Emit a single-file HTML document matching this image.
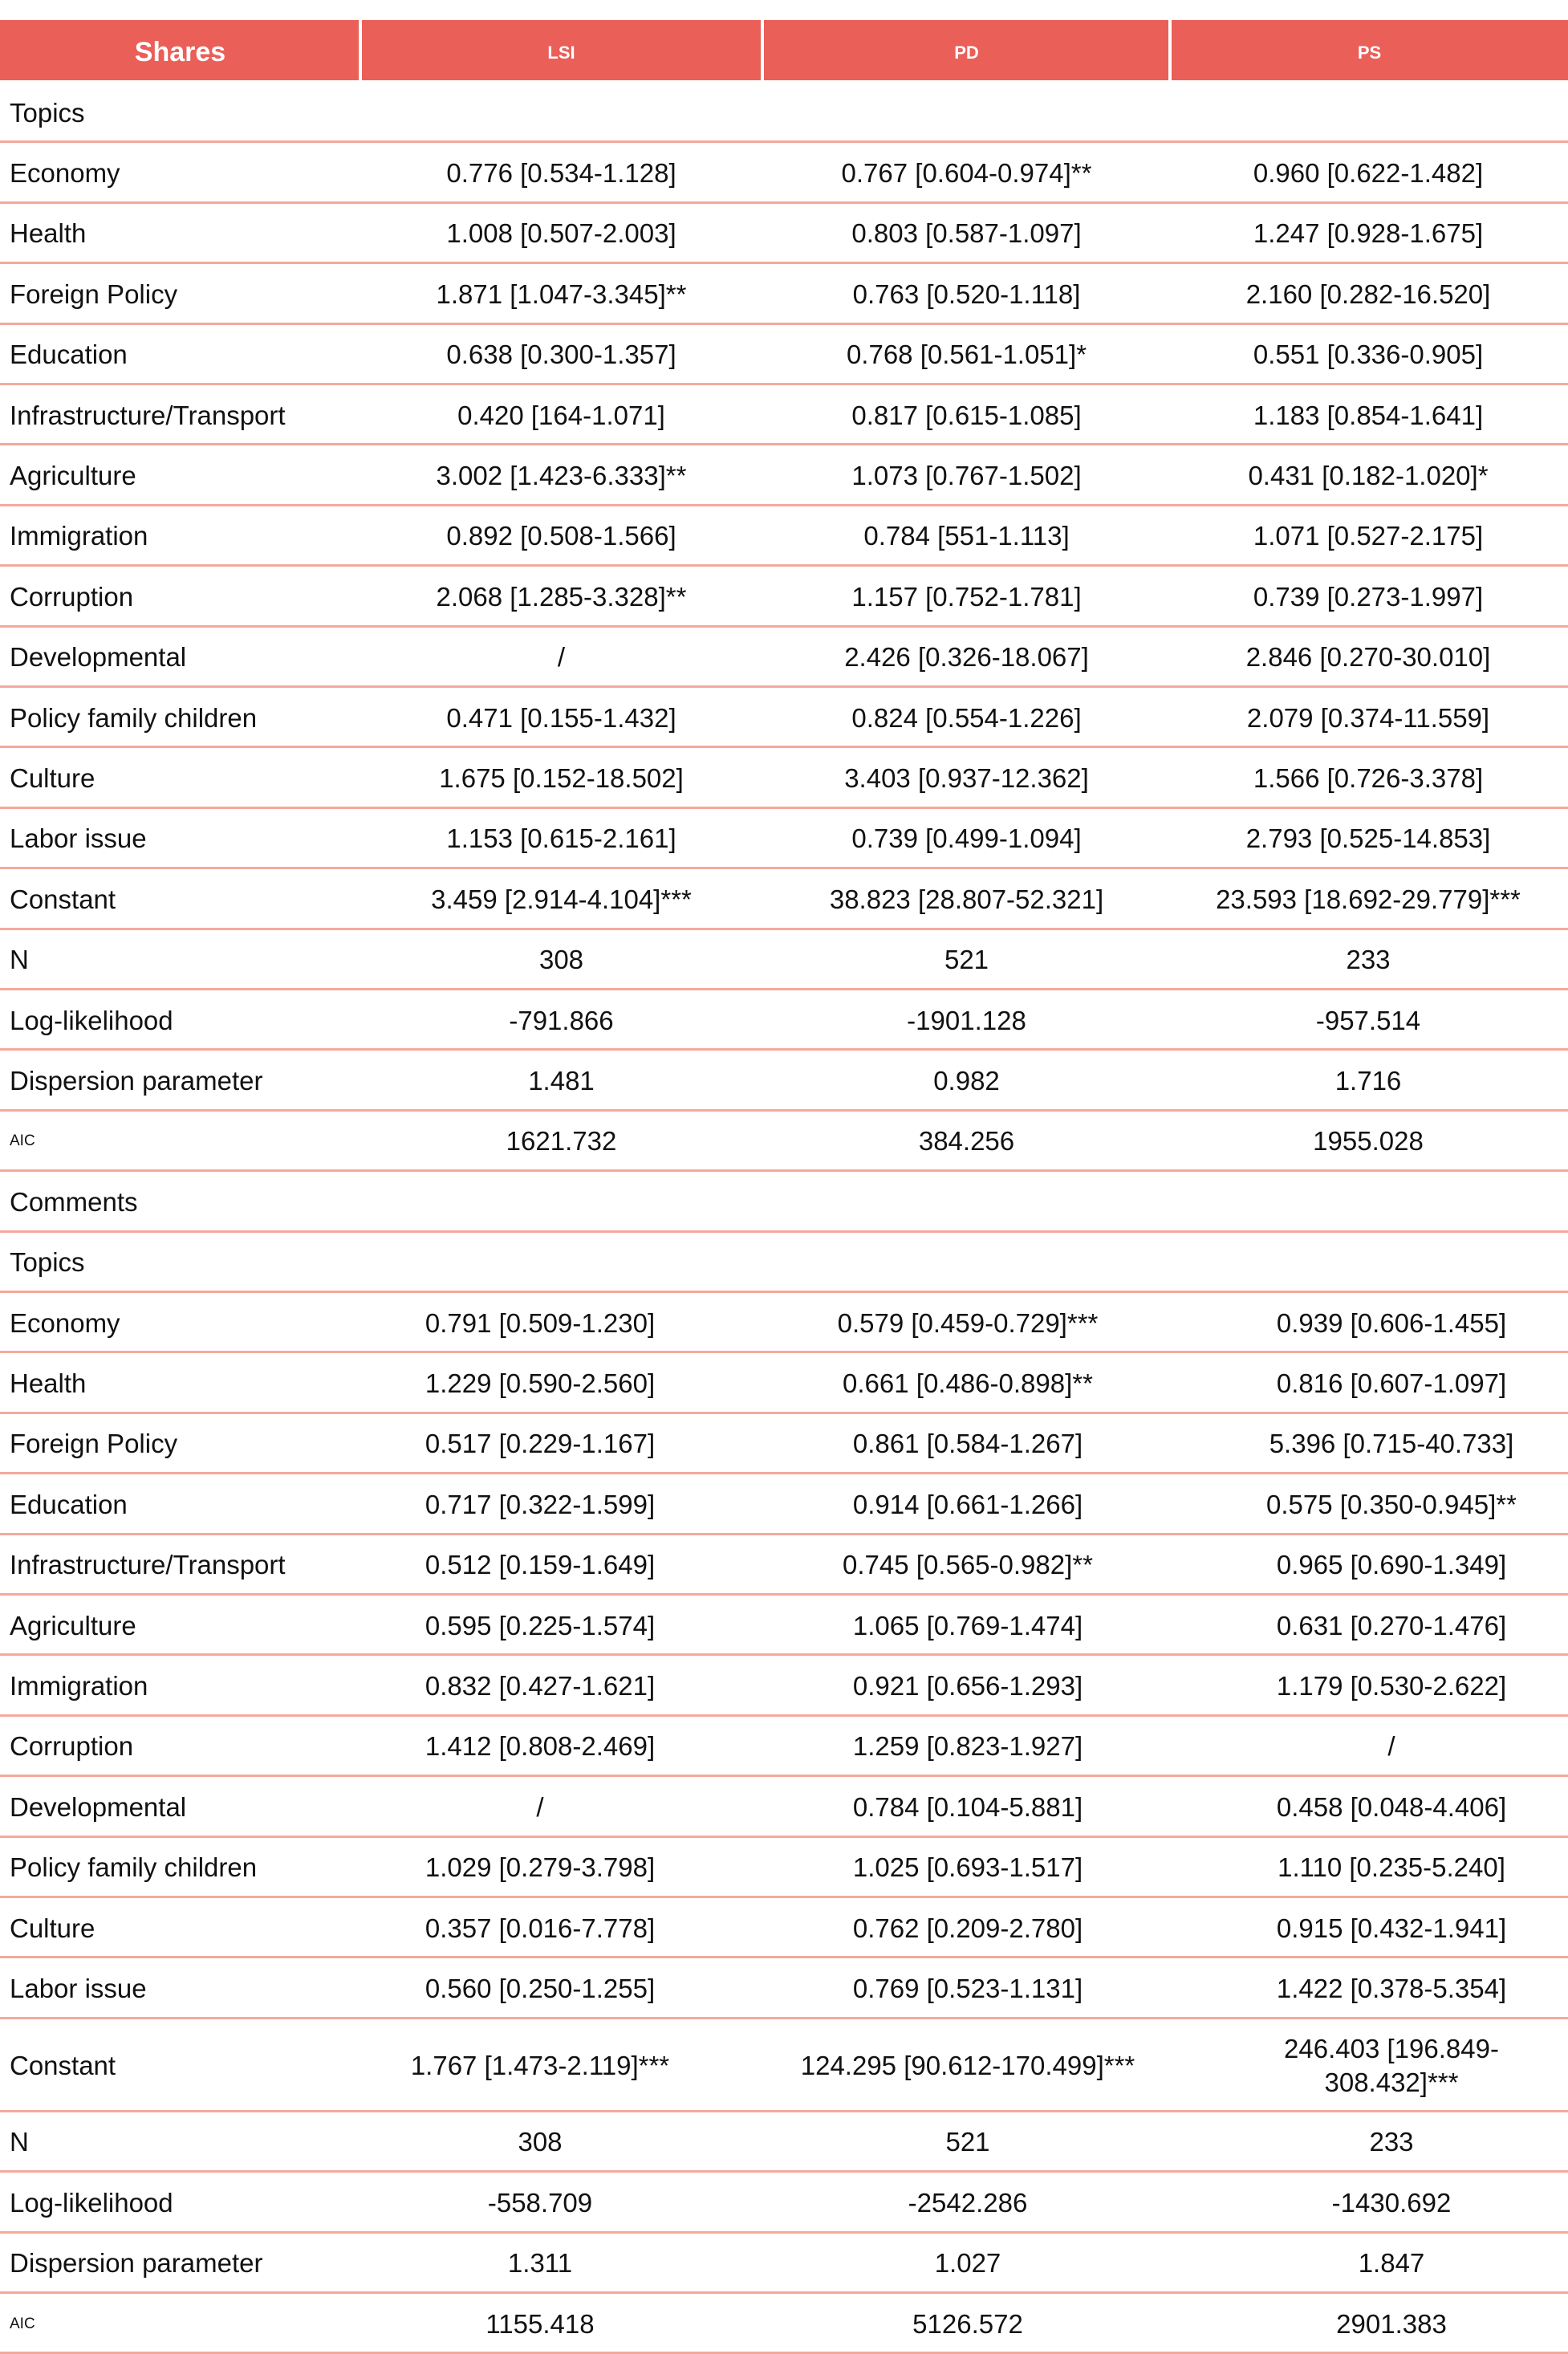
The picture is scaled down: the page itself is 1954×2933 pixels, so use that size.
<!DOCTYPE html>
<html><head><meta charset="utf-8"><style>
*{margin:0;padding:0;box-sizing:border-box}
body{width:1954px;height:2932px;background:#fff;overflow:hidden;position:relative;font-family:"Liberation Sans",sans-serif;color:#111}
.hd{position:absolute;top:25px;height:75px;background:#EA5F58;color:#fff;font-weight:bold;display:flex;align-items:center;justify-content:center;padding-top:6px}
.vl{position:absolute;top:25px;height:75px;width:4px;background:#fff}
.w{position:absolute;left:0;top:3px;width:1954px;height:2929px}
.r{position:absolute;left:0;width:1954px;height:75.4px;border-bottom:3px solid #F5A99C}
.r div{position:absolute;top:0;height:100%;display:flex;align-items:center;font-size:33px;padding-top:3px}
.l{left:12px;width:440px}
.a{left:449px;width:501px;justify-content:center;text-align:center}
.b{left:950px;width:509px;justify-content:center;text-align:center}
.c{left:1459px;width:492px;justify-content:center;text-align:center}
.s2 .a{left:420px;width:506px}
.s2 .b{left:946px;width:520px}
.s2 .c{left:1466px;width:536px}
.sm{font-size:19px!important}
</style></head><body>
<div class="hd" style="left:0;width:449px;font-size:34px">Shares</div>
<div class="hd" style="left:449px;width:501px;font-size:22px">LSI</div>
<div class="hd" style="left:950px;width:509px;font-size:22px">PD</div>
<div class="hd" style="left:1459px;width:495px;font-size:22px">PS</div>
<div class="vl" style="left:447px"></div><div class="vl" style="left:948px"></div><div class="vl" style="left:1456px"></div>
<div class="w">
<div class="r" style="top:100px"><div class="l">Topics</div></div>
<div class="r" style="top:175.4px"><div class="l">Economy</div><div class="a">0.776 [0.534-1.128]</div><div class="b">0.767 [0.604-0.974]**</div><div class="c">0.960 [0.622-1.482]</div></div>
<div class="r" style="top:250.8px"><div class="l">Health</div><div class="a">1.008 [0.507-2.003]</div><div class="b">0.803 [0.587-1.097]</div><div class="c">1.247 [0.928-1.675]</div></div>
<div class="r" style="top:326.2px"><div class="l">Foreign Policy</div><div class="a">1.871 [1.047-3.345]**</div><div class="b">0.763 [0.520-1.118]</div><div class="c">2.160 [0.282-16.520]</div></div>
<div class="r" style="top:401.6px"><div class="l">Education</div><div class="a">0.638 [0.300-1.357]</div><div class="b">0.768 [0.561-1.051]*</div><div class="c">0.551 [0.336-0.905]</div></div>
<div class="r" style="top:477px"><div class="l">Infrastructure/Transport</div><div class="a">0.420 [164-1.071]</div><div class="b">0.817 [0.615-1.085]</div><div class="c">1.183 [0.854-1.641]</div></div>
<div class="r" style="top:552.4px"><div class="l">Agriculture</div><div class="a">3.002 [1.423-6.333]**</div><div class="b">1.073 [0.767-1.502]</div><div class="c">0.431 [0.182-1.020]*</div></div>
<div class="r" style="top:627.8px"><div class="l">Immigration</div><div class="a">0.892 [0.508-1.566]</div><div class="b">0.784 [551-1.113]</div><div class="c">1.071 [0.527-2.175]</div></div>
<div class="r" style="top:703.2px"><div class="l">Corruption</div><div class="a">2.068 [1.285-3.328]**</div><div class="b">1.157 [0.752-1.781]</div><div class="c">0.739 [0.273-1.997]</div></div>
<div class="r" style="top:778.6px"><div class="l">Developmental</div><div class="a">/</div><div class="b">2.426 [0.326-18.067]</div><div class="c">2.846 [0.270-30.010]</div></div>
<div class="r" style="top:854px"><div class="l">Policy family children</div><div class="a">0.471 [0.155-1.432]</div><div class="b">0.824 [0.554-1.226]</div><div class="c">2.079 [0.374-11.559]</div></div>
<div class="r" style="top:929.4px"><div class="l">Culture</div><div class="a">1.675 [0.152-18.502]</div><div class="b">3.403 [0.937-12.362]</div><div class="c">1.566 [0.726-3.378]</div></div>
<div class="r" style="top:1004.8px"><div class="l">Labor issue</div><div class="a">1.153 [0.615-2.161]</div><div class="b">0.739 [0.499-1.094]</div><div class="c">2.793 [0.525-14.853]</div></div>
<div class="r" style="top:1080.2px"><div class="l">Constant</div><div class="a">3.459 [2.914-4.104]***</div><div class="b">38.823 [28.807-52.321]</div><div class="c">23.593 [18.692-29.779]***</div></div>
<div class="r" style="top:1155.6px"><div class="l">N</div><div class="a">308</div><div class="b">521</div><div class="c">233</div></div>
<div class="r" style="top:1231px"><div class="l">Log-likelihood</div><div class="a">-791.866</div><div class="b">-1901.128</div><div class="c">-957.514</div></div>
<div class="r" style="top:1306.4px"><div class="l">Dispersion parameter</div><div class="a">1.481</div><div class="b">0.982</div><div class="c">1.716</div></div>
<div class="r" style="top:1381.8px"><div class="l sm">AIC</div><div class="a">1621.732</div><div class="b">384.256</div><div class="c">1955.028</div></div>
<div class="r" style="top:1457.2px"><div class="l">Comments</div></div>
<div class="r s2" style="top:1532.6px"><div class="l">Topics</div></div>
<div class="r s2" style="top:1608px"><div class="l">Economy</div><div class="a">0.791 [0.509-1.230]</div><div class="b">0.579 [0.459-0.729]***</div><div class="c">0.939 [0.606-1.455]</div></div>
<div class="r s2" style="top:1683.4px"><div class="l">Health</div><div class="a">1.229 [0.590-2.560]</div><div class="b">0.661 [0.486-0.898]**</div><div class="c">0.816 [0.607-1.097]</div></div>
<div class="r s2" style="top:1758.8px"><div class="l">Foreign Policy</div><div class="a">0.517 [0.229-1.167]</div><div class="b">0.861 [0.584-1.267]</div><div class="c">5.396 [0.715-40.733]</div></div>
<div class="r s2" style="top:1834.2px"><div class="l">Education</div><div class="a">0.717 [0.322-1.599]</div><div class="b">0.914 [0.661-1.266]</div><div class="c">0.575 [0.350-0.945]**</div></div>
<div class="r s2" style="top:1909.6px"><div class="l">Infrastructure/Transport</div><div class="a">0.512 [0.159-1.649]</div><div class="b">0.745 [0.565-0.982]**</div><div class="c">0.965 [0.690-1.349]</div></div>
<div class="r s2" style="top:1985px"><div class="l">Agriculture</div><div class="a">0.595 [0.225-1.574]</div><div class="b">1.065 [0.769-1.474]</div><div class="c">0.631 [0.270-1.476]</div></div>
<div class="r s2" style="top:2060.4px"><div class="l">Immigration</div><div class="a">0.832 [0.427-1.621]</div><div class="b">0.921 [0.656-1.293]</div><div class="c">1.179 [0.530-2.622]</div></div>
<div class="r s2" style="top:2135.8px"><div class="l">Corruption</div><div class="a">1.412 [0.808-2.469]</div><div class="b">1.259 [0.823-1.927]</div><div class="c">/</div></div>
<div class="r s2" style="top:2211.2px"><div class="l">Developmental</div><div class="a">/</div><div class="b">0.784 [0.104-5.881]</div><div class="c">0.458 [0.048-4.406]</div></div>
<div class="r s2" style="top:2286.6px"><div class="l">Policy family children</div><div class="a">1.029 [0.279-3.798]</div><div class="b">1.025 [0.693-1.517]</div><div class="c">1.110 [0.235-5.240]</div></div>
<div class="r s2" style="top:2362px"><div class="l">Culture</div><div class="a">0.357 [0.016-7.778]</div><div class="b">0.762 [0.209-2.780]</div><div class="c">0.915 [0.432-1.941]</div></div>
<div class="r s2" style="top:2437.4px"><div class="l">Labor issue</div><div class="a">0.560 [0.250-1.255]</div><div class="b">0.769 [0.523-1.131]</div><div class="c">1.422 [0.378-5.354]</div></div>
<div class="r s2" style="top:2512.8px;height:116px"><div class="l">Constant</div><div class="a">1.767 [1.473-2.119]***</div><div class="b">124.295 [90.612-170.499]***</div><div class="c" style="line-height:42px">246.403 [196.849-<br>308.432]***</div></div>
<div class="r s2" style="top:2628.8px"><div class="l">N</div><div class="a">308</div><div class="b">521</div><div class="c">233</div></div>
<div class="r s2" style="top:2704.2px"><div class="l">Log-likelihood</div><div class="a">-558.709</div><div class="b">-2542.286</div><div class="c">-1430.692</div></div>
<div class="r s2" style="top:2779.6px"><div class="l">Dispersion parameter</div><div class="a">1.311</div><div class="b">1.027</div><div class="c">1.847</div></div>
<div class="r s2" style="top:2855px"><div class="l sm">AIC</div><div class="a">1155.418</div><div class="b">5126.572</div><div class="c">2901.383</div></div>
</div>
</body></html>
